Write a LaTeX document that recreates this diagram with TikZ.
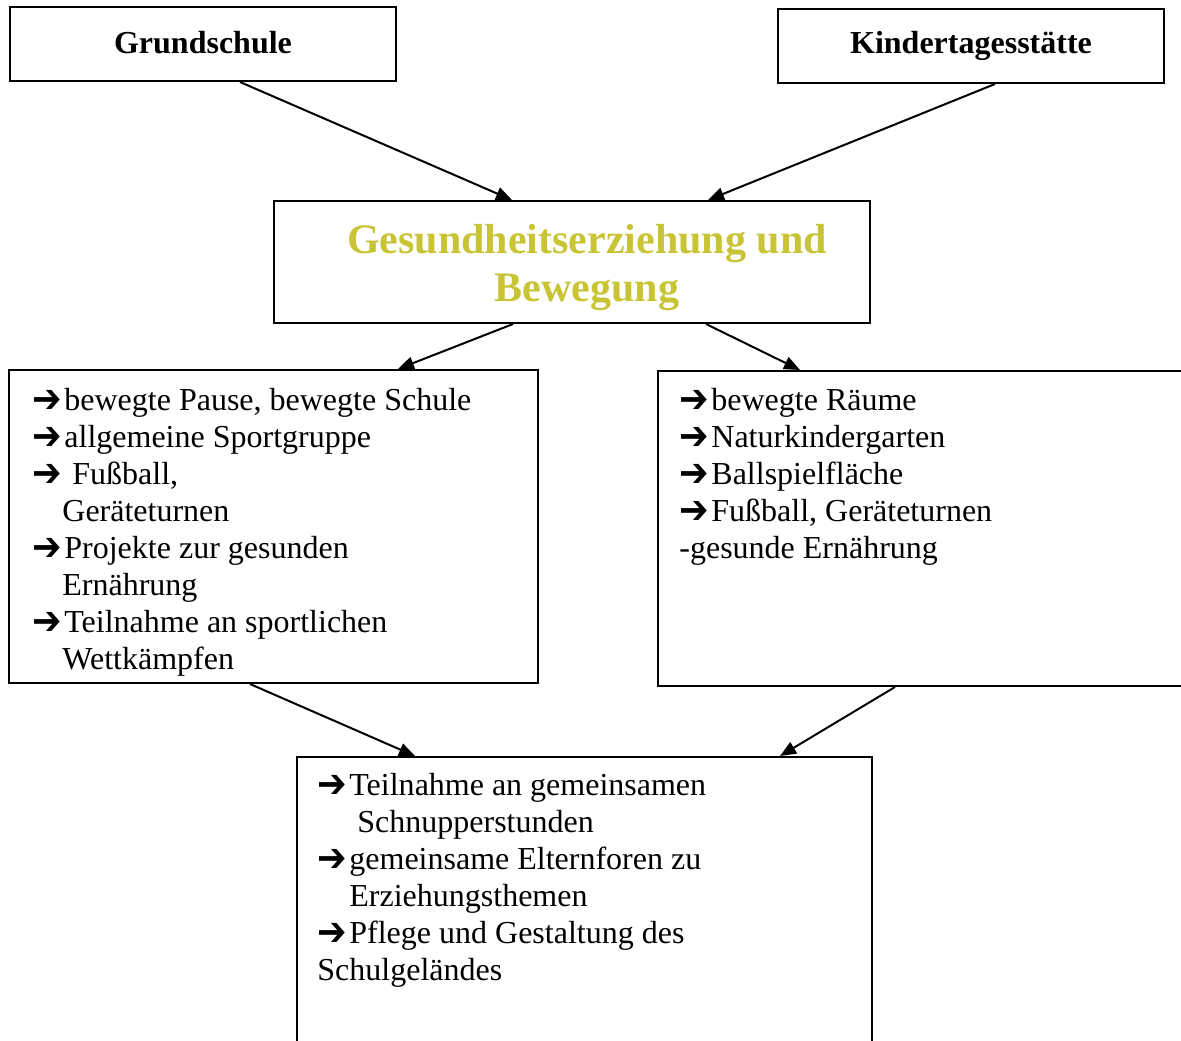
\documentclass[tikz,border=0pt]{standalone}
\usepackage{fontspec}
\setmainfont{Liberation Serif}
\newfontfamily\pfeilfont{DejaVu Sans}
\usetikzlibrary{calc,arrows.meta}
\definecolor{titelgelb}{RGB}{200,196,52}
% arrow in front of each item
\newcommand{\pfeil}{\makebox[16pt][l]{\raisebox{-1.2pt}{\scalebox{1.1}[1.25]{\pfeilfont\bfseries ➔}}}}

\begin{document}
\begin{tikzpicture}[x=0.5pt,y=-0.5pt,
	box/.style={draw, line width=1pt, inner sep=0pt},
	liste/.style={anchor=north west, inner sep=0pt, align=left,
		font=\fontsize{16}{18.5}\selectfont},
	verbindung/.style={-{Triangle[length=8pt,width=6.5pt]}, line width=1pt}]
\useasboundingbox (0,0) rectangle (1181,1040);
\clip (0,0) rectangle (1181,1040);
% help guide lines
%\draw[help lines] (0,0) grid [step = 50](1181,1040);
%
% 1 - the two institutions
\node[box, minimum width=193pt, minimum height=37pt,
	font=\fontsize{16}{18.5}\selectfont\bfseries] (gs) at (203,44) {\raisebox{1.5pt}{Grundschule}};
\node[box, minimum width=193pt, minimum height=37pt,
	font=\fontsize{16}{18.5}\selectfont\bfseries] (kita) at (971,46) {\raisebox{1pt}{Kindertagesstätte}};
% 2 - common topic
\node[box, minimum width=298pt, minimum height=61pt] (ctr) at (572,262) {};
\node[inner sep=0pt, align=center, text=titelgelb,
	font=\fontsize{21}{24}\selectfont\bfseries] (titel) at ($(ctr)+(15,6)$)
	{Gesundheitserziehung und\\Bewegung};
% 3 - offers of school and day care
\node[box, minimum width=264.5pt, minimum height=156.5pt] (lft) at (273.5,526.5) {};
\node[liste] (lfttext) at ($(lft.north west)+(24,15)$)
	{\strut\pfeil bewegte Pause, bewegte Schule\\
	 \pfeil allgemeine Sportgruppe\\
	 \pfeil\ Fußball,\\
	 \hspace*{15pt}Geräteturnen\\
	 \pfeil Projekte zur gesunden\\
	 \hspace*{15pt}Ernährung\\
	 \pfeil Teilnahme an sportlichen\\
	 \hspace*{15pt}Wettkämpfen};
\node[box, minimum width=271pt, minimum height=157.5pt] (rgt) at (929,528.5) {};
\node[liste] (rgttext) at ($(rgt.north west)+(22,14)$)
	{\strut\pfeil bewegte Räume\\
	 \pfeil Naturkindergarten\\
	 \pfeil Ballspielfläche\\
	 \pfeil Fußball, Geräteturnen\\
	 -gesunde Ernährung};
% 4 - joint activities
\node[box, minimum width=287.5pt, minimum height=151.5pt] (bot) at (584.5,908.5) {};
\node[liste] (bottext) at ($(bot.north west)+(21,13)$)
	{\strut\pfeil Teilnahme an gemeinsamen\\
	 \hspace*{20pt}Schnupperstunden\\
	 \pfeil gemeinsame Elternforen zu\\
	 \hspace*{16pt}Erziehungsthemen\\
	 \pfeil Pflege und Gestaltung des\\
	 Schulgeländes};
% connect boxes
\draw[verbindung] ($(gs.south)+(37,0)$) -- ($(ctr.north)+(-60,0)$);
\draw[verbindung] ($(kita.south)+(24,0)$) -- ($(ctr.north)+(136,0)$);
\draw[verbindung] ($(ctr.south)+(-59,0)$) -- ($(lft.north)+(124.5,0)$);
\draw[verbindung] ($(ctr.south)+(134,0)$) -- ($(rgt.north)+(-129,0)$);
\draw[verbindung] ($(lft.south)+(-23.5,0)$) -- ($(bot.north)+(-169.5,0)$);
\draw[verbindung] ($(rgt.south)+(-34,0)$) -- ($(bot.north)+(195.5,0)$);
\end{tikzpicture}
\end{document}
